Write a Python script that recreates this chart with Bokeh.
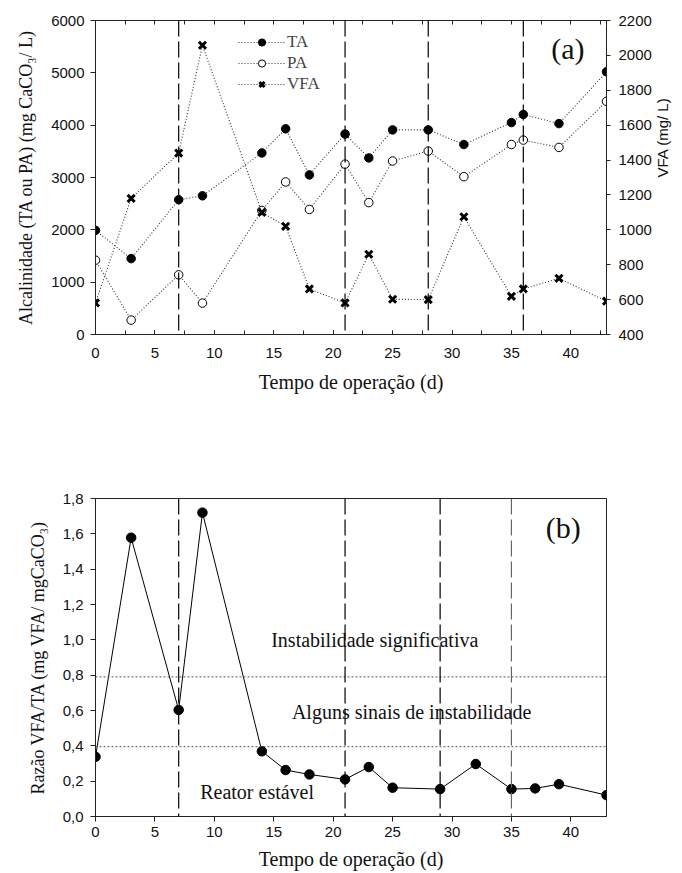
import math
from bokeh.plotting import figure
from bokeh.layouts import column
from bokeh.models import (Range1d, LinearAxis, SingleIntervalTicker, Span, Label,
                          Legend, LegendItem, CustomJSTickFormatter)
from bokeh.embed import file_html
from bokeh.resources import INLINE

# ---------------- data: panel (a) ----------------
days_a = [0, 3, 7, 9, 14, 16, 18, 21, 23, 25, 28, 31, 35, 36, 39, 43]
ta = [1990, 1450, 2575, 2650, 3470, 3930, 3050, 3830, 3375, 3910, 3910, 3630, 4050, 4205, 4030, 5020]
pa = [1420, 275, 1140, 600, 2370, 2915, 2390, 3255, 2520, 3315, 3505, 3015, 3630, 3715, 3575, 4455]
vfa = [581, 1180, 1440, 2058, 1100, 1020, 661, 581, 860, 602, 600, 1075, 619, 661, 722, 591]
phase_a = [7, 21, 28, 36]

# ---------------- data: panel (b) ----------------
days_b = [0, 3, 7, 9, 14, 16, 18, 21, 23, 25, 29, 32, 35, 37, 39, 43]
ratio = [0.338, 1.578, 0.603, 1.72, 0.369, 0.263, 0.238, 0.21, 0.28, 0.163, 0.155, 0.297, 0.155, 0.159, 0.183, 0.121]
phase_b = [7, 21, 29, 35]
thresholds = [0.79, 0.395]

SERIF = "Liberation Serif"
SANS = "Liberation Sans"
AX = "#222222"


def style_axis(ax, tick_out=5, tick_in=0):
    ax.axis_line_color = AX
    ax.major_tick_line_color = AX
    ax.minor_tick_line_color = AX
    ax.major_tick_out = tick_out
    ax.major_tick_in = tick_in
    ax.major_label_text_font = SANS
    ax.major_label_text_font_size = "15px"
    ax.major_label_text_color = "#111111"
    ax.axis_label_text_font = SERIF
    ax.axis_label_text_font_style = "normal"
    ax.axis_label_text_color = "#111111"


# ================= panel (a) =================
pa_fig = figure(width=682, height=440, x_range=Range1d(0, 43), y_range=Range1d(0, 6000),
                output_backend="svg", toolbar_location=None,
                min_border_left=95, min_border_right=73, min_border_top=20, min_border_bottom=106)
pa_fig.extra_y_ranges = {"vfa": Range1d(400, 2200)}
pa_fig.xgrid.visible = False
pa_fig.ygrid.visible = False
pa_fig.outline_line_color = AX

xa = pa_fig.xaxis[0]
style_axis(xa, tick_out=0, tick_in=4)
xa.ticker = SingleIntervalTicker(interval=5, num_minor_ticks=2)
xa.minor_tick_in = 4
xa.minor_tick_out = 0
xa.major_label_standoff = 13
xa.axis_label = "Tempo de operação (d)"
xa.axis_label_text_font_size = "20px"
xa.axis_label_standoff = 10

ya = pa_fig.yaxis[0]
style_axis(ya, tick_out=5)
ya.ticker = SingleIntervalTicker(interval=1000, num_minor_ticks=0)
ya.major_label_standoff = 6
ya.axis_label = "Alcalinidade (TA ou PA) (mg CaCO\u2083/ L)"
ya.axis_label_text_font_size = "18px"
ya.axis_label_standoff = 12

right_ax = LinearAxis(y_range_name="vfa")
style_axis(right_ax, tick_out=4)
right_ax.ticker = SingleIntervalTicker(interval=200, num_minor_ticks=0)
right_ax.major_label_standoff = 8
right_ax.axis_label = "VFA (mg/ L)"
right_ax.axis_label_text_font = SANS
right_ax.axis_label_text_font_size = "15px"
right_ax.axis_label_standoff = 8
try:
    right_ax.axis_label_orientation = math.pi / 2
except Exception:
    pass
pa_fig.add_layout(right_ax, "right")

top_ax = LinearAxis()
style_axis(top_ax, tick_out=0, tick_in=0)
top_ax.ticker = SingleIntervalTicker(interval=5, num_minor_ticks=2)
top_ax.minor_tick_in = 4
top_ax.minor_tick_out = 0
top_ax.major_label_text_alpha = 0
top_ax.major_label_text_font_size = "1px"
pa_fig.add_layout(top_ax, "above")

for d in phase_a:
    pa_fig.add_layout(Span(location=d, dimension="height", line_color="black",
                           line_dash="16 5", line_width=1.2))

l_ta = pa_fig.line(days_a, ta, line_color="#333333", line_dash="1 2", line_width=1.1)
s_ta = pa_fig.scatter(days_a, ta, marker="circle", size=8.5, fill_color="black", line_color="black")
l_pa = pa_fig.line(days_a, pa, line_color="#333333", line_dash="1 2", line_width=1.1)
s_pa = pa_fig.scatter(days_a, pa, marker="circle", size=8.5, fill_color="white", line_color="black")
l_vfa = pa_fig.line(days_a, vfa, line_color="#333333", line_dash="1 2", line_width=1.1,
                    y_range_name="vfa")
s_vfa = pa_fig.scatter(days_a, vfa, marker="x", size=10, line_color="black", line_width=3,
                       y_range_name="vfa")

legend = Legend(items=[LegendItem(label="TA", renderers=[l_ta, s_ta]),
                       LegendItem(label="PA", renderers=[l_pa, s_pa]),
                       LegendItem(label="VFA", renderers=[l_vfa, s_vfa])],
                location=(143, 240), border_line_color=None, background_fill_alpha=0,
                padding=0, margin=0, spacing=1, glyph_width=47, glyph_height=18,
                label_height=18, label_text_font=SERIF, label_text_font_size="17px",
                label_standoff=2)
pa_fig.add_layout(legend)

pa_fig.add_layout(Label(x=39.75, y=5465, text="(a)", text_font=SERIF, text_font_size="30px",
                        text_align="center", text_baseline="middle", text_color="#111111"))

# ================= panel (b) =================
pb_fig = figure(width=682, height=433, x_range=Range1d(0, 43), y_range=Range1d(0, 1.8),
                output_backend="svg", toolbar_location=None,
                min_border_left=95, min_border_right=73, min_border_top=58, min_border_bottom=57)
pb_fig.xgrid.visible = False
pb_fig.ygrid.visible = False
pb_fig.outline_line_color = AX

xb = pb_fig.xaxis[0]
style_axis(xb, tick_out=5)
xb.ticker = SingleIntervalTicker(interval=5, num_minor_ticks=0)
xb.major_label_standoff = 5
xb.axis_label = "Tempo de operação (d)"
xb.axis_label_text_font_size = "20px"
xb.axis_label_standoff = 8

yb = pb_fig.yaxis[0]
style_axis(yb, tick_out=5)
yb.ticker = SingleIntervalTicker(interval=0.2, num_minor_ticks=0)
yb.formatter = CustomJSTickFormatter(code="return tick.toFixed(1).replace('.', ',');")
yb.major_label_standoff = 7
yb.axis_label = "Razão VFA/TA (mg VFA/ mgCaCO\u2083)"
yb.axis_label_text_font_size = "18px"
yb.axis_label_standoff = 12

for t in thresholds:
    pb_fig.add_layout(Span(location=t, dimension="width", line_color="#555555",
                           line_dash="2 2", line_width=1))
for i, d in enumerate(phase_b):
    pb_fig.add_layout(Span(location=d, dimension="height",
                           line_color="#666666" if i == len(phase_b) - 1 else "black",
                           line_dash="16 5", line_width=1.2))

pb_fig.line(days_b, ratio, line_color="black", line_width=1)
pb_fig.scatter(days_b, ratio, marker="circle", size=9.5, fill_color="black", line_color="black")

for txt, x, y in [("Instabilidade significativa", 23.5, 1.0),
                  ("Alguns sinais de instabilidade", 26.6, 0.59),
                  ("Reator estável", 13.6, 0.137)]:
    pb_fig.add_layout(Label(x=x, y=y, text=txt, text_font=SERIF, text_font_size="20px",
                            text_align="center", text_baseline="middle", text_color="#111111"))
pb_fig.add_layout(Label(x=39.37, y=1.636, text="(b)", text_font=SERIF, text_font_size="30px",
                        text_align="center", text_baseline="middle", text_color="#111111"))

p = column(pa_fig, pb_fig)
open("out.html", "w").write(file_html(p, INLINE))
